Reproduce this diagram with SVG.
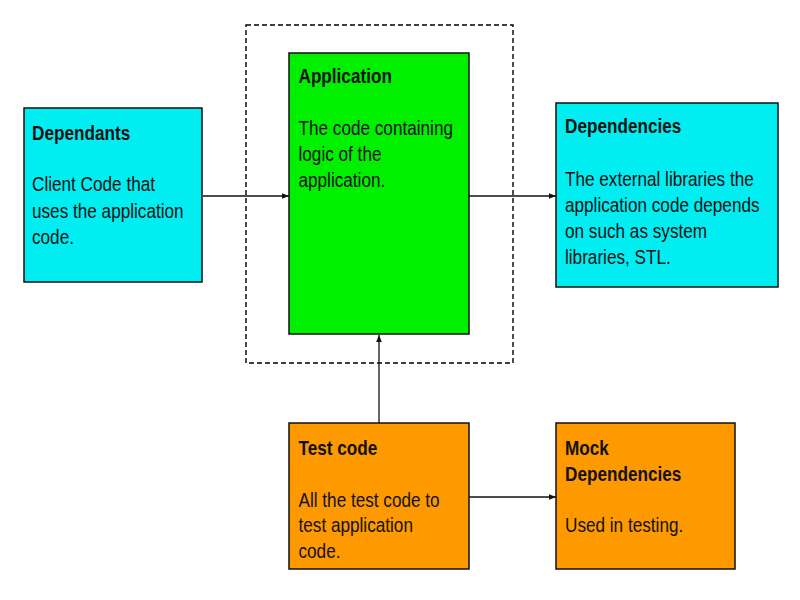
<svg xmlns="http://www.w3.org/2000/svg" width="800" height="600" viewBox="0 0 800 600">
<style>
  .box { stroke: #111; stroke-width: 1.5; }
  .cyan { fill: #00EEF2; }
  .green { fill: #00F000; }
  .orange { fill: #FF9900; }
  .t { font-family: "Liberation Sans", Arial, sans-serif; font-size: 19.5px; fill: #111; }
  .b { font-weight: bold; }
  .conn { stroke: #111; stroke-width: 1.3; fill: none; marker-end: url(#arr); }
</style>
<defs>
  <marker id="arr" viewBox="0 0 10 10" refX="10" refY="5" markerWidth="7" markerHeight="7" markerUnits="userSpaceOnUse" orient="auto">
    <path d="M0,1 L10,5 L0,9 z" fill="#111"/>
  </marker>
</defs>
<rect width="800" height="600" fill="#fff"/>
<rect id="boundary" x="246" y="25" width="267" height="338" fill="none" stroke="#000" stroke-width="1.4" stroke-dasharray="5,3"/>
<g id="connectors">
  <line class="conn" x1="203" y1="196" x2="289" y2="196"/>
  <line class="conn" x1="469" y1="196" x2="556" y2="196"/>
  <line class="conn" x1="379" y1="423" x2="379" y2="335"/>
  <line class="conn" x1="469" y1="497" x2="556" y2="497"/>
</g>
<g id="dependants">
  <rect class="box cyan" x="24" y="108" width="178" height="174"/>
  <g transform="translate(32,0) scale(0.88,1)">
    <text class="t b" x="0" y="140">Dependants</text>
    <text class="t" x="0" y="191">Client Code that</text>
    <text class="t" x="0" y="218">uses the application</text>
    <text class="t" x="0" y="244">code.</text>
  </g>
</g>
<g id="application">
  <rect class="box green" x="289" y="53" width="180" height="281"/>
  <g transform="translate(298.5,0) scale(0.88,1)">
    <text class="t b" x="0" y="83">Application</text>
    <text class="t" x="0" y="135">The code containing</text>
    <text class="t" x="0" y="161">logic of the</text>
    <text class="t" x="0" y="187">application.</text>
  </g>
</g>
<g id="dependencies">
  <rect class="box cyan" x="556" y="103" width="222" height="184"/>
  <g transform="translate(565,0) scale(0.88,1)">
    <text class="t b" x="0" y="133">Dependencies</text>
    <text class="t" x="0" y="186">The external libraries the</text>
    <text class="t" x="0" y="212">application code depends</text>
    <text class="t" x="0" y="238">on such as system</text>
    <text class="t" x="0" y="264">libraries, STL.</text>
  </g>
</g>
<g id="test-code">
  <rect class="box orange" x="289" y="423" width="180" height="146"/>
  <g transform="translate(298.5,0) scale(0.88,1)">
    <text class="t b" x="0" y="455">Test code</text>
    <text class="t" x="0" y="507">All the test code to</text>
    <text class="t" x="0" y="532">test application</text>
    <text class="t" x="0" y="558">code.</text>
  </g>
</g>
<g id="mock-dependencies">
  <rect class="box orange" x="556" y="423" width="179" height="146"/>
  <g transform="translate(565,0) scale(0.88,1)">
    <text class="t b" x="0" y="455">Mock</text>
    <text class="t b" x="0" y="481">Dependencies</text>
    <text class="t" x="0" y="532">Used in testing.</text>
  </g>
</g>
</svg>
